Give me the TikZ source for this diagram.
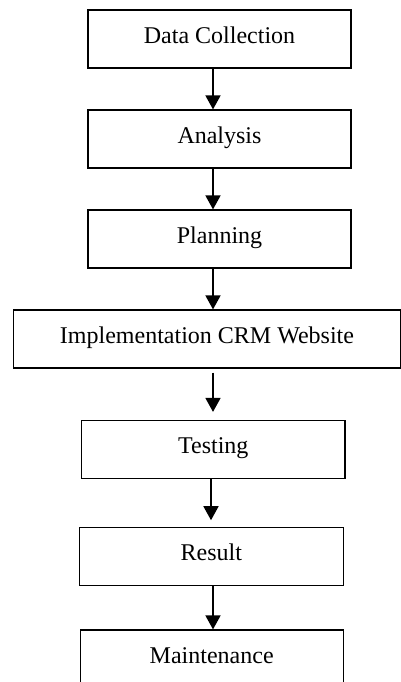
\documentclass[tikz,border=0pt]{standalone}
\usepackage{fontspec}
\setmainfont{Liberation Serif}
\usetikzlibrary{arrows.meta}

\begin{document}
\begin{tikzpicture}[x=0.5pt,y=-0.5pt,
    stage/.style={draw, line width=0.6pt, minimum height=29pt, inner sep=0pt,
        text height=8pt, text depth=4pt, font=\fontsize{12}{14}\selectfont},
    flow/.style={line width=0.8pt, -{Triangle[width=7.5pt,length=7pt]}}]
    \useasboundingbox (0,0) rectangle (401,682);
    \clip (0,0) rectangle (401,682);
    \node[stage, minimum width=131.5pt] (collect) at (219.5,39) {Data Collection};
    \node[stage, minimum width=131.5pt] (analysis) at (219.5,139) {Analysis};
    \node[stage, minimum width=131.5pt] (planning) at (219.5,239) {Planning};
    \node[stage, minimum width=193.5pt] (implement) at (207,339) {Implementation CRM Website};
    \node[stage, minimum width=131.6pt] (testing) at (213.3,449.5) {Testing};
    \node[stage, minimum width=132pt] (result) at (211.3,556.8) {Result};
    \node[stage, minimum width=131.6pt] (maintain) at (211.7,659) {Maintenance};
    \coordinate (axis) at (213,0);
    \coordinate (axisb) at (211,0);
    \foreach \a/\b in {collect/analysis, analysis/planning, planning/implement, result/maintain}
        \draw[flow] (\a.south -| axis) -- (\b.north -| axis);
    \draw[flow, shorten <=2pt, shorten >=4pt] (implement.south -| axis) -- (testing.north -| axis);
    \draw[flow, shorten >=3.5pt] (testing.south -| axisb) -- (result.north -| axisb);
\end{tikzpicture}
\end{document}
